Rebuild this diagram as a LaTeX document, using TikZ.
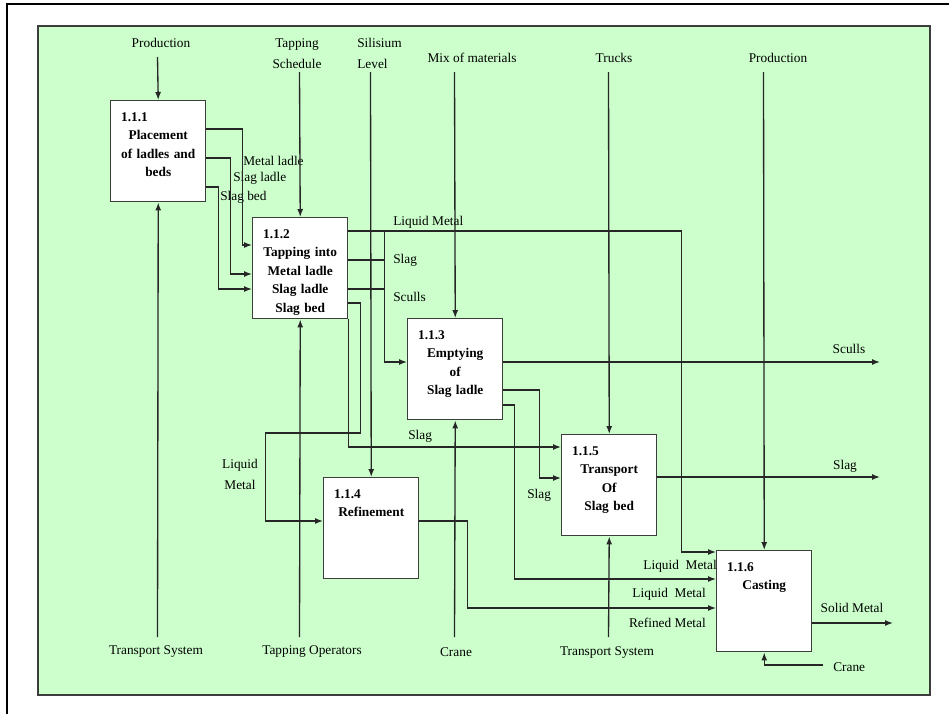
\documentclass[tikz,border=0pt]{standalone}
\usepackage{fontspec}
\setmainfont{Liberation Serif}
\usetikzlibrary{arrows.meta}
\definecolor{bggreen}{RGB}{204,255,204}
\definecolor{edge}{RGB}{60,60,60}
\newcommand{\procnum}[1]{\makebox[55.5pt][l]{#1}}

\begin{document}
\begin{tikzpicture}[
    x=0.75pt, y=-0.75pt,
    lbl/.style={font=\fontsize{10}{15.75}\selectfont, inner sep=0, align=center},
    proc/.style={draw=edge, fill=white, line width=1.1pt, anchor=north west, inner sep=0, minimum width=71.25pt, minimum height=75.75pt},
    ptext/.style={font=\bfseries\fontsize{10}{13.9}\selectfont, inner sep=0, text width=64pt, align=center, anchor=base},
    flow/.style={-{Latex[length=6pt,width=4.5pt]}, line width=1pt, draw=black!85},
    link/.style={line width=1pt, draw=black!85}
]
\useasboundingbox (0,0) rectangle (949,714);
\draw[line width=2pt] (7,714) -- (7,4) -- (949,4);
\draw[draw=edge, line width=1.1pt, fill=bggreen] (38,26) rectangle (930,695);

\node[proc] (p1) at (110,100) {};
\node[proc] (p2) at (252,217) {};
\node[proc] (p3) at (407,318) {};
\node[proc] (p4) at (323,477) {};
\node[proc] (p5) at (561,434) {};
\node[proc] (p6) at (716,550) {};

\node[ptext] (t1) at ([yshift=-16pt]p1.north) {\procnum{1.1.1}\\Placement\\of ladles and\\beds};
\node[ptext] (t2) at ([yshift=-16pt]p2.north) {\procnum{1.1.2}\\Tapping into\\Metal ladle\\Slag ladle\\Slag bed};
\node[ptext] (t3) at ([yshift=-16pt]p3.north) {\procnum{1.1.3}\\Emptying\\of\\Slag ladle};
\node[ptext] (t4) at ([yshift=-16pt]p4.north) {\procnum{1.1.4}\\Refinement};
\node[ptext] (t5) at ([yshift=-16pt]p5.north) {\procnum{1.1.5}\\Transport\\Of\\Slag bed};
\node[ptext] (t6) at ([yshift=-16pt]p6.north) {\procnum{1.1.6}\\Casting};

\node[lbl] (lProd1) at (161,43) {Production};
\node[lbl] (lTapSch) at (297,53.5) {Tapping\\Schedule};
\node[lbl, align=left, anchor=west] (lSil) at (357,53.5) {Silisium\\Level};
\node[lbl] (lMix) at (472,58) {Mix of materials};
\node[lbl] (lTrucks) at (614,58) {Trucks};
\node[lbl] (lProd2) at (778,58) {Production};
\node[lbl] (lTS1) at (156,652) {Transport System};
\node[lbl] (lTapOp) at (312,652) {Tapping Operators};
\node[lbl] (lCrane1) at (456,652) {Crane};
\node[lbl] (lTS2) at (607,653) {Transport System};
\node[lbl, anchor=west] (lCrane2) at (833,667) {Crane};

\node[lbl, anchor=west] (lMetLad) at (243,161) {Metal ladle};
\node[lbl, anchor=west] (lSlagLad) at (233,178) {Slag ladle};
\node[lbl, anchor=west] (lSlagBed) at (220,197) {Slag bed};
\node[lbl, anchor=west] (lLiq1) at (393,222) {Liquid Metal};
\node[lbl, anchor=west] (lSlag1) at (393,260) {Slag};
\node[lbl, anchor=west] (lSculls1) at (393,297) {Sculls};
\node[lbl] (lLiq2) at (240,474.5) {Liquid\\Metal};
\node[lbl, anchor=west] (lSlag2) at (408,436) {Slag};
\node[lbl, anchor=west] (lSlag3) at (527,495) {Slag};
\node[lbl, anchor=east] (lLiq3) at (717,566) {Liquid\ \ Metal};
\node[lbl, anchor=east] (lLiq4) at (706,594) {Liquid\ \ Metal};
\node[lbl, anchor=east] (lRefined) at (706,623) {Refined Metal};
\node[lbl] (lSculls2) at (849,349) {Sculls};
\node[lbl] (lSlagOut) at (845,466) {Slag};
\node[lbl] (lSolid) at (852,608) {Solid Metal};

\coordinate (cProd1) at (157.5,57);
\coordinate (cTapSch) at (299.5,72);
\coordinate (cSil) at (370.5,72);
\coordinate (cMix) at (454.5,72);
\coordinate (cTrucks) at (608.5,72);
\coordinate (cProd2) at (763.5,72);
\coordinate (cTS1) at (157.5,637);
\coordinate (cTapOp) at (299.5,637);
\coordinate (cCrane1) at (454.5,637);
\coordinate (cTS2) at (608.5,637);
\coordinate (cCrane2) at (823,665);
\coordinate (cSculls) at (880,362);
\coordinate (cSlag) at (880,477);
\coordinate (cSolid) at (893,623);

\draw[flow] (cProd1) -- (p1.north);
\draw[flow] (cTapSch) -- (p2.north);
\draw[flow] (cSil) -- (p4.north);
\draw[flow] (cMix) -- (p3.north);
\draw[flow] (cTrucks) -- (p5.north);
\draw[flow] (cProd2) -- (p6.north);
\draw[flow] (cTS1) -- (p1.south);
\draw[flow] (cTapOp) -- (p2.south);
\draw[flow] (cCrane1) -- (p3.south);
\draw[flow] (cTS2) -- (p5.south);
\draw[flow] (cCrane2) -| (p6.south);

\draw[flow] ([yshift=-21.75pt]p1.north east) -- ++(36,0) |- ([yshift=-21pt]p2.north west);
\draw[flow] ([yshift=-43.5pt]p1.north east) -- ++(24,0) |- ([yshift=-42.75pt]p2.north west);
\draw[flow] ([yshift=-65.25pt]p1.north east) -- ++(12,0) |- ([yshift=-54pt]p2.north west);

\draw[flow] ([yshift=-10.5pt]p2.north east) -- ++(333,0) |- ([yshift=-1.5pt]p6.north west);
\draw[link] ([yshift=-32.25pt]p2.north east) -- ++(36,0);
\draw[link] ([yshift=-54pt]p2.north east) -- ++(36,0);
\draw[flow] ([xshift=27pt,yshift=-10.5pt]p2.north east) |- ([yshift=-33pt]p3.north west);
\draw[flow] ([yshift=-64.5pt]p2.north east) -- ++(12,0) |- ++(-95,130) |- ([yshift=-33pt]p4.north west);
\draw[flow] (p2.south east) |- ([yshift=-9.75pt]p5.north west);

\draw[flow] (p3.east |- cSculls) -- (cSculls);
\draw[flow] ([yshift=-54pt]p3.north east) -- ++(36,0) |- ([yshift=-33pt]p5.north west);
\draw[flow] ([yshift=-65.25pt]p3.north east) -- ++(11,0) |- ([yshift=-21.75pt]p6.north west);
\draw[flow] ([yshift=-33pt]p4.north east) -- ++(48,0) |- ([yshift=-43.5pt]p6.north west);
\draw[flow] (p5.east |- cSlag) -- (cSlag);
\draw[flow] (p6.east |- cSolid) -- (cSolid);
\end{tikzpicture}
\end{document}
